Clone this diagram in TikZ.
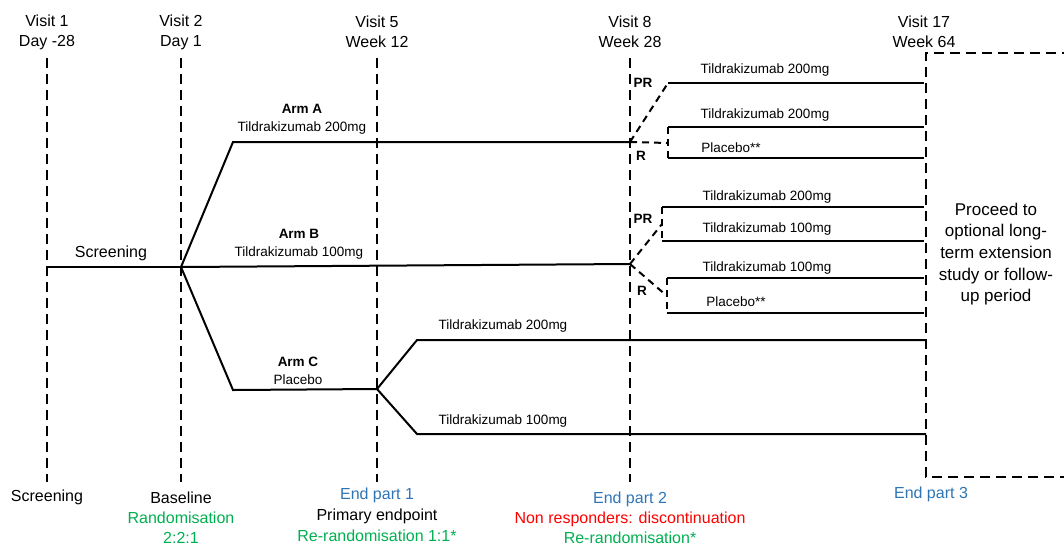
\documentclass[tikz,border=0pt]{standalone}
\usepackage{fontspec}
\setmainfont{Liberation Sans}
\usetikzlibrary{positioning}
\definecolor{partblue}{HTML}{2E75B6}
\definecolor{randgreen}{HTML}{00B050}
\definecolor{stopred}{HTML}{FF0000}

\begin{document}
\begin{tikzpicture}[
    x=1pt, y=-1pt,
    every node/.style={inner sep=0pt, align=center},
    visit/.style={line width=2.2pt, dash pattern=on 10pt off 6pt},
    arm/.style={line width=2pt},
    rerand/.style={line width=2pt, dash pattern=on 7pt off 5pt},
    big/.style={font=\fontsize{16}{20}\selectfont},
    small/.style={font=\fontsize{13.5}{18}\selectfont},
    tag/.style={font=\fontsize{13.5}{18}\selectfont\bfseries},
    point/.style={coordinate}
]
\useasboundingbox (0,0) rectangle (1064,547);

% Visits
\node[big] (v1_head) at (47,32) {Visit 1\\Day -28};
\node[big] (v2_head) at (181,32) {Visit 2\\Day 1};
\node[big] (v5_head) at (377,32) {Visit 5\\Week 12};
\node[big] (v8_head) at (630,32) {Visit 8\\Week 28};
\node[big] (v17_head) at (924,32) {Visit 17\\Week 64};

\coordinate (v1_top) at (47,58);
\coordinate (v1_bot) at (47,482);
\coordinate (v2_top) at (181,58);
\coordinate (v2_bot) at (181,482);
\coordinate (v5_top) at (377,58);
\coordinate (v5_bot) at (377,482);
\coordinate (v8_top) at (630,58);
\coordinate (v8_bot) at (630,482);

\draw[visit] (v1_top) -- (v1_bot);
\draw[visit] (v2_top) -- (v2_bot);
\draw[visit] (v5_top) -- (v5_bot);
\draw[visit] (v8_top) -- (v8_bot);

% Extension box
\coordinate (box_tr) at (1072,53);
\coordinate (box_tl) at (926,53);
\coordinate (box_bl) at (926,477);
\coordinate (box_br) at (1072,477);
\draw[visit] (box_tr) -- (box_tl) -- (box_bl) -- (box_br);
\node[font=\fontsize{17}{21.7}\selectfont] (box_text) at (996,254)
    {Proceed to\\optional long-\\term extension\\study or follow-\\up period};

% Screening and randomisation
\coordinate (screen_start) at (47,267);
\coordinate (rand) at (181,267);
\node[big] (screen_label) at (111,253) {Screening};
\draw[arm] (screen_start) -- (rand);

% Arm A
\coordinate (armA_bend) at (233,142);
\coordinate (armA_end) at (630,142);
\node[small] (armA_label) at (302,119) {\textbf{Arm A}\\Tildrakizumab 200mg};
\draw[arm] (rand) -- (armA_bend) -- (armA_end);

% Arm B
\coordinate (armB_end) at (630,264);
\node[small] (armB_label) at (299,244) {\textbf{Arm B}\\Tildrakizumab 100mg};
\draw[arm] (rand) -- (armB_end);

% Arm C
\coordinate (armC_bend) at (233,390);
\coordinate (armC_end) at (377,389);
\node[small] (armC_label) at (298,371) {\textbf{Arm C}\\Placebo};
\draw[arm] (rand) -- (armC_bend) -- (armC_end);

% Arm C re-randomisation
\coordinate (c_hi_bend) at (417,340);
\coordinate (c_hi_end) at (926,340);
\coordinate (c_lo_bend) at (417,434);
\coordinate (c_lo_end) at (926,434);
\node[small] (c_hi_label) at (503,326) {Tildrakizumab 200mg};
\node[small] (c_lo_label) at (503,421) {Tildrakizumab 100mg};
\draw[arm] (armC_end) -- (c_hi_bend) -- (c_hi_end);
\draw[arm] (armC_end) -- (c_lo_bend) -- (c_lo_end);

% Arm A at week 28
\coordinate (a_pr) at (668,83);
\coordinate (a_pr_end) at (924,83);
\coordinate (a_r_top) at (668,127);
\coordinate (a_r_mid) at (668,143);
\coordinate (a_r_bot) at (668,158);
\coordinate (a_r_top_end) at (924,127);
\coordinate (a_r_bot_end) at (924,158);
\node[tag] (a_pr_tag) at (643,83) {PR};
\node[tag] (a_r_tag) at (641,156) {R};
\node[small] (a_pr_label) at (765,70) {Tildrakizumab 200mg};
\node[small] (a_r_top_label) at (765,115) {Tildrakizumab 200mg};
\node[small] (a_r_bot_label) at (731,148) {Placebo**};
\draw[rerand] (armA_end) -- (a_pr);
\draw[rerand] (armA_end) -- (a_r_mid);
\draw[rerand] (a_r_top) -- (a_r_bot);
\draw[arm] (a_pr) -- (a_pr_end);
\draw[arm] (a_r_top) -- (a_r_top_end);
\draw[arm] (a_r_bot) -- (a_r_bot_end);

% Arm B at week 28
\coordinate (b_pr_top) at (662,207);
\coordinate (b_pr_mid) at (662,224);
\coordinate (b_pr_bot) at (662,241);
\coordinate (b_pr_top_end) at (924,207);
\coordinate (b_pr_bot_end) at (924,241);
\coordinate (b_r_top) at (667,278);
\coordinate (b_r_mid) at (667,296);
\coordinate (b_r_bot) at (667,313);
\coordinate (b_r_top_end) at (924,278);
\coordinate (b_r_bot_end) at (924,313);
\node[tag] (b_pr_tag) at (643,219) {PR};
\node[tag] (b_r_tag) at (642,291) {R};
\node[small] (b_pr_top_label) at (767,197) {Tildrakizumab 200mg};
\node[small] (b_pr_bot_label) at (767,229) {Tildrakizumab 100mg};
\node[small] (b_r_top_label) at (767,268) {Tildrakizumab 100mg};
\node[small] (b_r_bot_label) at (736,302) {Placebo**};
\draw[rerand] (armB_end) -- (b_pr_mid);
\draw[rerand] (armB_end) -- (b_r_mid);
\draw[rerand] (b_pr_top) -- (b_pr_bot);
\draw[rerand] (b_r_top) -- (b_r_bot);
\draw[arm] (b_pr_top) -- (b_pr_top_end);
\draw[arm] (b_pr_bot) -- (b_pr_bot_end);
\draw[arm] (b_r_top) -- (b_r_top_end);
\draw[arm] (b_r_bot) -- (b_r_bot_end);

% Milestones
\node[big] (v1_foot) at (47,497) {Screening};
\node[big] (v2_foot) at (181,518) {Baseline\\\textcolor{randgreen}{Randomisation}\\\textcolor{randgreen}{2:2:1}};
\node[big, font=\fontsize{16}{21}\selectfont] (v5_foot) at (377,515) {\textcolor{partblue}{End part 1}\\Primary endpoint\\\textcolor{randgreen}{Re-randomisation 1:1*}};
\node[big] (v8_foot) at (630,518) {\textcolor{partblue}{End part 2}\\\textcolor{stopred}{Non responders: discontinuation}\\\textcolor{randgreen}{Re-randomisation*}};
\node[big, text=partblue] (v17_foot) at (931,494) {End part 3};

\end{tikzpicture}
\end{document}
